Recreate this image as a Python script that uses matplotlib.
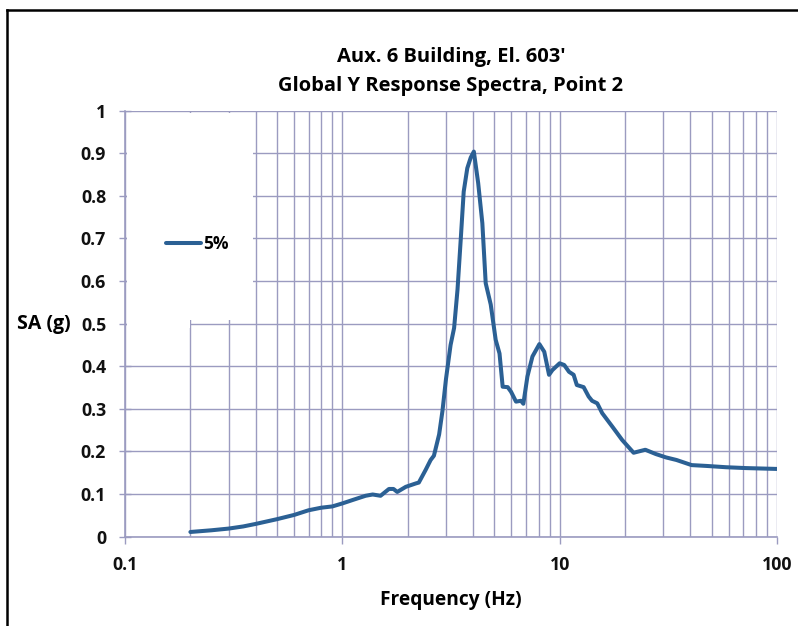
import matplotlib
matplotlib.use('Agg')
import matplotlib.pyplot as plt
from matplotlib.patches import Rectangle
from matplotlib.lines import Line2D
from matplotlib.ticker import FixedLocator, LogLocator, NullFormatter

plt.rcParams['font.family'] = ['Open Sans', 'DejaVu Sans']
plt.rcParams['font.weight'] = 'bold'

# spectrum, 5% damping
freq = [0.2, 0.25, 0.3, 0.35, 0.4, 0.5, 0.6, 0.7, 0.8, 0.9, 1.0, 1.13, 1.28, 1.38,
        1.5, 1.64, 1.72, 1.79, 1.96, 2.18, 2.25, 2.42, 2.55, 2.64, 2.79, 2.89, 3.0,
        3.15, 3.27, 3.39, 3.51, 3.62, 3.76, 3.9, 4.03, 4.22, 4.41, 4.57, 4.82, 5.08,
        5.29, 5.47, 5.77, 5.98, 6.3, 6.64, 6.81, 7.11, 7.5, 8.07, 8.5, 8.94, 9.26,
        10.0, 10.5, 11.05, 11.6, 12.0, 12.9, 13.6, 14.1, 14.9, 15.7, 17.5, 19.4,
        21.9, 24.8, 27.7, 30.9, 34.5, 40.5, 47.6, 58.4, 72.0, 100.0]
sa_5pct = [0.011, 0.015, 0.019, 0.024, 0.03, 0.041, 0.051, 0.062, 0.068, 0.071, 0.078,
           0.087, 0.096, 0.099, 0.096, 0.112, 0.112, 0.105, 0.117, 0.125, 0.127, 0.157,
           0.18, 0.19, 0.24, 0.295, 0.37, 0.45, 0.49, 0.58, 0.70, 0.81, 0.865, 0.89,
           0.904, 0.83, 0.736, 0.595, 0.545, 0.462, 0.43, 0.352, 0.351, 0.34, 0.317,
           0.319, 0.312, 0.376, 0.423, 0.452, 0.434, 0.38, 0.391, 0.407, 0.403, 0.387,
           0.38, 0.356, 0.351, 0.329, 0.319, 0.313, 0.29, 0.258, 0.227, 0.197, 0.204,
           0.194, 0.186, 0.18, 0.168, 0.166, 0.163, 0.161, 0.159]
y_ticks = [0, 0.1, 0.2, 0.3, 0.4, 0.5, 0.6, 0.7, 0.8, 0.9, 1]
y_labels = ['0', '0.1', '0.2', '0.3', '0.4', '0.5', '0.6', '0.7', '0.8', '0.9', '1']
x_ticks = [0.1, 1, 10, 100]
x_labels = ['0.1', '1', '10', '100']

grid_col = '#9b9bc0'
line_col = '#2b6094'

fig = plt.figure(figsize=(7.98, 6.26), dpi=100)
ax = fig.add_axes([0.1566, 0.1427, 0.817, 0.6805])

ax.plot(freq, sa_5pct, color=line_col, lw=2.9, zorder=3, label='5%',
        solid_joinstyle='round', solid_capstyle='round')
ax.set_xscale('log')
ax.set_xlim(0.1, 100)
ax.set_ylim(0, 1)

ax.xaxis.set_major_locator(FixedLocator(x_ticks))
ax.set_xticklabels(x_labels)
ax.xaxis.set_minor_locator(LogLocator(base=10, subs=range(2, 10)))
ax.xaxis.set_minor_formatter(NullFormatter())
ax.set_yticks(y_ticks)
ax.set_yticklabels(y_labels)

ax.set_axisbelow(True)
ax.grid(True, which='major', color=grid_col, lw=1.0)
ax.grid(True, which='minor', axis='x', color=grid_col, lw=1.0)

ax.tick_params(axis='y', direction='inout', length=9, width=1, color=grid_col,
               labelsize=12.8, pad=9, labelcolor='#111111')
ax.tick_params(axis='x', which='major', direction='out', length=5, width=1,
               color=grid_col, labelsize=12.8, pad=9, labelcolor='#111111')
ax.tick_params(axis='x', which='minor', length=0)
for lab in ax.get_xticklabels() + ax.get_yticklabels():
    lab.set_fontweight('bold')

for s in ['top', 'right']:
    ax.spines[s].set_visible(False)
for s in ['left', 'bottom']:
    ax.spines[s].set_color(grid_col)
    ax.spines[s].set_linewidth(1.2)

# white legend area that hides the grid in the top-left corner
ax.add_patch(Rectangle((0.003, 0.508), 0.194, 0.487, transform=ax.transAxes,
                       facecolor='white', edgecolor='none', zorder=1))
ax.add_patch(Rectangle((0.003, 0.49), 0.097, 0.03, transform=ax.transAxes,
                       facecolor='white', edgecolor='none', zorder=1))

leg = ax.legend(loc='center left', bbox_to_anchor=(0.05, 0.688), frameon=False,
                handlelength=2.0, handletextpad=0.1, borderpad=0,
                prop={'size': 12.5, 'weight': 'bold'})
leg.set_zorder(4)

fig.text(0.565, 0.909, "Aux. 6 Building, El. 603'", ha='center', va='center',
         fontsize=14.5, fontweight='bold')
fig.text(0.565, 0.862, 'Global Y Response Spectra, Point 2', ha='center', va='center',
         fontsize=14.5, fontweight='bold')
fig.text(0.565, 0.041, 'Frequency (Hz)', ha='center', va='center',
         fontsize=13.8, fontweight='bold')
fig.text(0.055, 0.482, 'SA (g)', ha='center', va='center',
         fontsize=14, fontweight='bold')

# outer border, only left and top show in the reference
fig.add_artist(Line2D([0.009, 0.009], [0.0, 0.984], color='black', lw=1.8,
                      transform=fig.transFigure))
fig.add_artist(Line2D([0.009, 1.0], [0.984, 0.984], color='black', lw=1.8,
                      transform=fig.transFigure))

fig.savefig('out.png', dpi=100)
